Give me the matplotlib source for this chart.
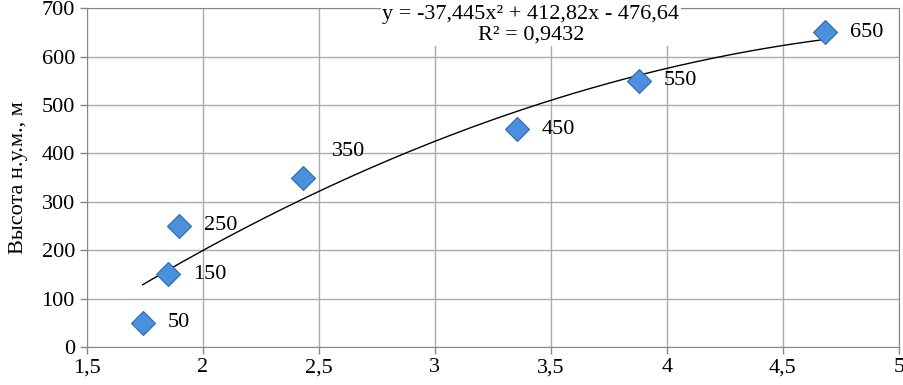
import numpy as np
import matplotlib.pyplot as plt

plt.rcParams['font.family'] = ['Liberation Serif', 'DejaVu Serif']

# данные
x_vals = [1.741, 1.852, 1.898, 2.432, 3.354, 3.880, 4.681]
heights = [50, 150, 250, 350, 450, 550, 650]
point_labels = ['50', '150', '250', '350', '450', '550', '650']
coef = [-37.445, 412.82, -476.64]
eq_text = 'y = -37,445x² + 412,82x - 476,64\nR² = 0,9432'
x_ticks = [1.5, 2, 2.5, 3, 3.5, 4, 4.5, 5]
x_ticklabels = ['1,5', '2', '2,5', '3', '3,5', '4', '4,5', '5']
y_ticks = [0, 100, 200, 300, 400, 500, 600, 700]

fig = plt.figure(figsize=(9.04, 3.85), dpi=100)
ax = fig.add_axes([0.0959, 0.0987, 0.8986, 0.8803])

# линия тренда
xx = np.linspace(min(x_vals), max(x_vals), 200)
ax.plot(xx, np.polyval(coef, xx), color='black', lw=1, zorder=2)

ax.plot(x_vals, heights, linestyle='none', marker='D', markersize=12,
        markerfacecolor='#4a90dc', markeredgecolor='#2d68ad', markeredgewidth=0.8, zorder=3)

for x, y, lab in zip(x_vals, heights, point_labels):
    if lab == '350':
        off = (21, 19)
    else:
        off = (18, 0)
    ax.annotate(lab, (x, y), xytext=off, textcoords='offset points',
                ha='left', va='center', fontsize=16)

ax.text(3.414, 665, eq_text, ha='center', va='center', fontsize=16, linespacing=1.12,
        bbox=dict(facecolor='white', edgecolor='none', pad=1), zorder=4)

ax.set_xlim(1.5, 5)
ax.set_ylim(0, 700)
ax.set_xticks(x_ticks)
ax.set_xticklabels(x_ticklabels)
ax.set_yticks(y_ticks)
ax.tick_params(labelsize=16, color='#888888', length=5, width=1)
ax.tick_params(axis='x', pad=3)
ax.grid(True, color='#aaaaaa', lw=1)
ax.set_axisbelow(True)
for s in ax.spines.values():
    s.set_color('#888888')
ax.set_ylabel('Высота н.у.м., м', fontsize=16, labelpad=10)

fig.savefig('out.png', dpi=100)
